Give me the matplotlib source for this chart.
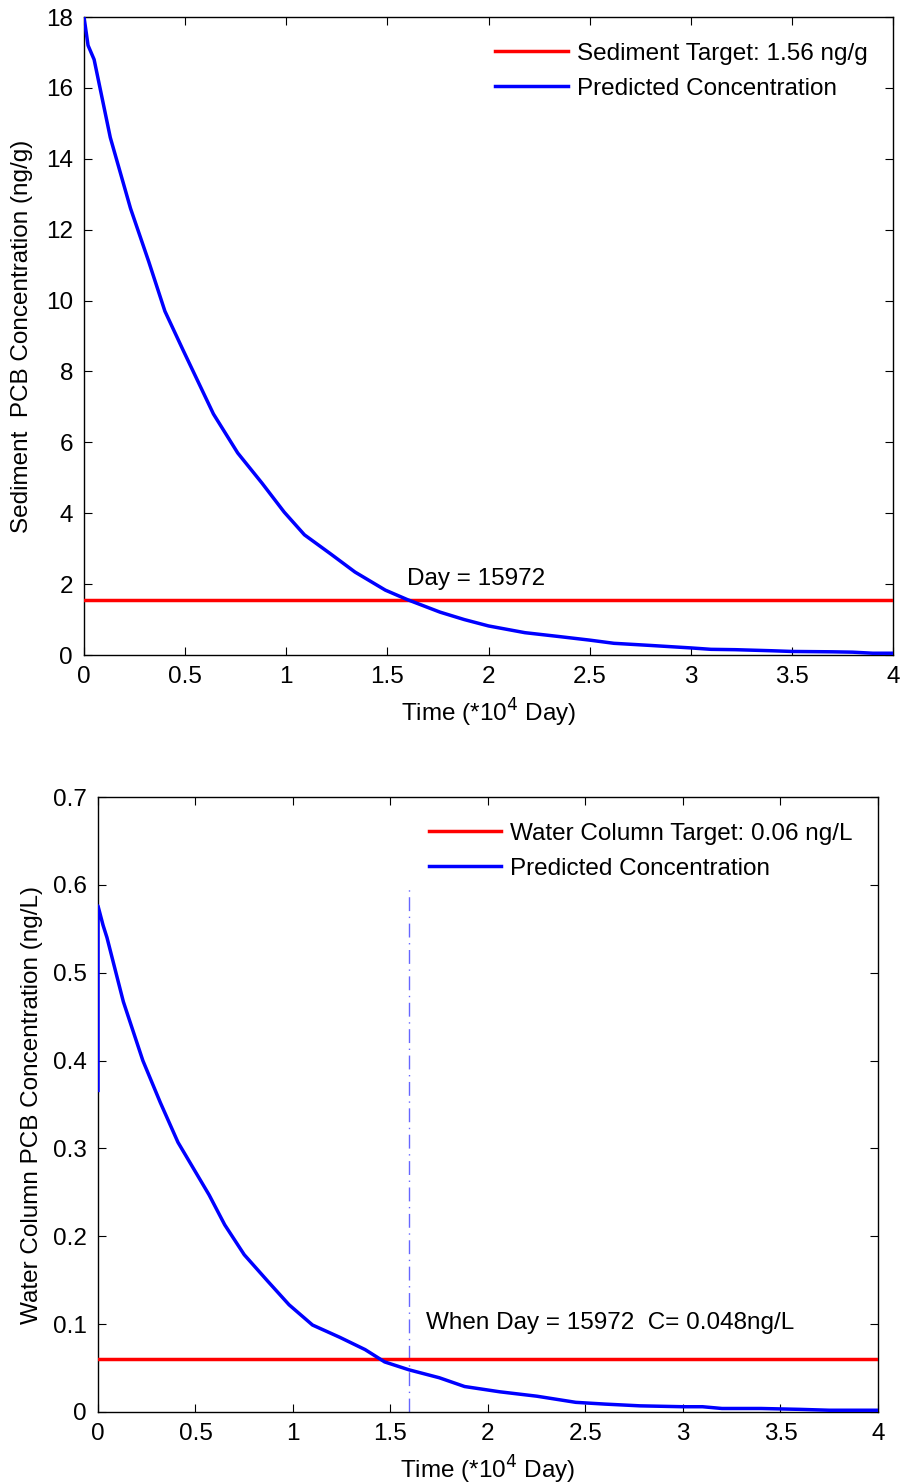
import numpy as np
import matplotlib.pyplot as plt

plt.rcParams['font.family'] = ['Liberation Sans', 'DejaVu Sans']
plt.rcParams['font.size'] = 17.5

# sediment PCB concentration (ng/g) vs time (*10^4 day)
sed_t = [0.0, 0.02, 0.05, 0.13, 0.23, 0.32, 0.40, 0.49, 0.64, 0.76, 0.88, 0.99, 1.09,
         1.22, 1.34, 1.49, 1.60, 1.76, 1.88, 2.0, 2.18, 2.35, 2.5, 2.62, 2.8, 3.0, 3.1,
         3.22, 3.4, 3.5, 3.7, 3.8, 3.9, 4.0]
sed_c = [18.0, 17.2, 16.8, 14.6, 12.6, 11.1, 9.7, 8.6, 6.8, 5.7, 4.85, 4.03, 3.39,
         2.85, 2.34, 1.83, 1.56, 1.21, 1.0, 0.82, 0.63, 0.52, 0.42, 0.33, 0.27, 0.2, 0.16,
         0.15, 0.12, 0.1, 0.09, 0.08, 0.05, 0.05]
sed_target = 1.56

# water column PCB concentration (ng/L)
wat_t = [0.0, 0.0, 0.026, 0.046, 0.13, 0.23, 0.32, 0.41, 0.57, 0.65, 0.75, 0.87, 0.98,
         1.1, 1.24, 1.37, 1.47, 1.595, 1.75, 1.88, 2.06, 2.25, 2.45, 2.6, 2.78, 3.0,
         3.1, 3.2, 3.4, 3.6, 3.75, 4.0]
wat_c = [0.366, 0.576, 0.554, 0.54, 0.467, 0.40, 0.352, 0.307, 0.247, 0.213, 0.179,
         0.149, 0.122, 0.099, 0.085, 0.071, 0.057, 0.048, 0.039, 0.029, 0.023, 0.018,
         0.011, 0.009, 0.007, 0.006, 0.006, 0.004, 0.004, 0.003, 0.002, 0.002]
wat_target = 0.06

day_cross = 15972
c_cross = 0.048

fig = plt.figure(figsize=(9.03, 14.83), dpi=100)
W, H = 903, 1483
ax1 = fig.add_axes([84 / W, 1 - 655 / H, 809 / W, 638 / H])
ax2 = fig.add_axes([98 / W, 1 - 1412 / H, 780 / W, 615 / H])

for ax in (ax1, ax2):
    ax.tick_params(direction='in', top=True, right=True, length=6, width=0.8, pad=8)
    for s in ax.spines.values():
        s.set_linewidth(1.0)

# top panel
ax1.plot([0, 4], [sed_target, sed_target], color='red', lw=2.5,
         label='Sediment Target: 1.56 ng/g', zorder=3)
ax1.plot(sed_t, sed_c, color='blue', lw=2.5, label='Predicted Concentration',
         zorder=3)
ax1.text(day_cross / 1e4, 2.15, 'Day = %d' % day_cross, va='center', ha='left')
ax1.set_xlim(0, 4)
ax1.set_ylim(0, 18)
ax1.set_xticks(np.arange(0, 4.01, 0.5))
ax1.set_xticklabels(['0', '0.5', '1', '1.5', '2', '2.5', '3', '3.5', '4'])
ax1.set_yticks(np.arange(0, 18.1, 2))
ax1.set_xlabel('Time (*10$^4$ Day)', labelpad=6)
ax1.set_ylabel('Sediment  PCB Concentration (ng/g)', labelpad=9)
ax1.legend(loc='upper right', frameon=False, handlelength=3.0, handletextpad=0.35,
           borderaxespad=0.65, labelspacing=0.55)

# bottom panel
ax2.plot([0, 4], [wat_target, wat_target], color='red', lw=2.5,
         label='Water Column Target: 0.06 ng/L', zorder=3)
ax2.plot(wat_t, wat_c, color='blue', lw=2.5, label='Predicted Concentration',
         zorder=3)
ax2.plot([day_cross / 1e4, day_cross / 1e4], [0, 0.6], color='blue', lw=1,
         alpha=0.6, ls=(0, (10, 4, 1, 4)))
ax2.text(1.68, 0.101, 'When Day = %d  C= %.3fng/L' % (day_cross, c_cross),
         va='center', ha='left')
ax2.set_xlim(0, 4)
ax2.set_ylim(0, 0.7)
ax2.set_xticks(np.arange(0, 4.01, 0.5))
ax2.set_xticklabels(['0', '0.5', '1', '1.5', '2', '2.5', '3', '3.5', '4'])
ax2.set_yticks(np.arange(0, 0.71, 0.1))
ax2.set_yticklabels(['0', '0.1', '0.2', '0.3', '0.4', '0.5', '0.6', '0.7'])
ax2.set_xlabel('Time (*10$^4$ Day)', labelpad=6)
ax2.set_ylabel('Water Column PCB Concentration (ng/L)', labelpad=7)
ax2.legend(loc='upper right', frameon=False, handlelength=3.0, handletextpad=0.35,
           borderaxespad=0.65, labelspacing=0.55)

fig.savefig('out.png', dpi=100)
